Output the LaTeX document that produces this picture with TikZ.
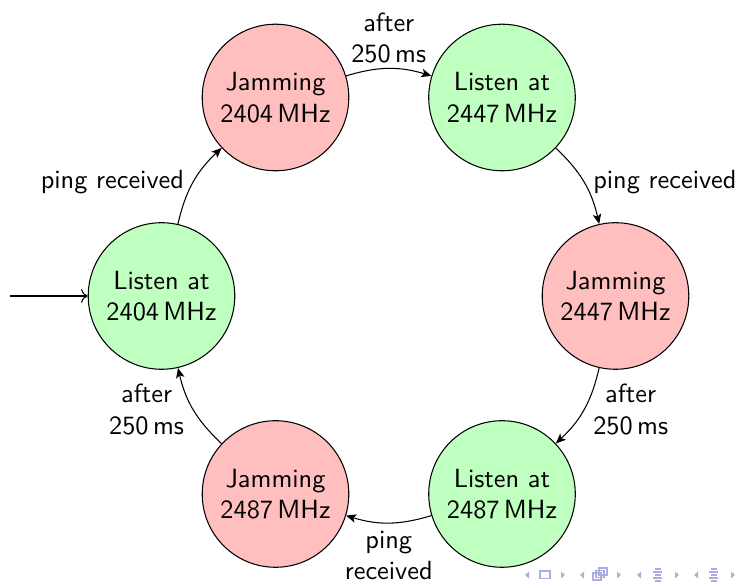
\documentclass[tikz,border=0pt]{standalone}
\usetikzlibrary{arrows.meta}
\definecolor{navc}{RGB}{173,173,225}
\begin{document}
\begin{tikzpicture}[x=0.38pt,y=-0.38pt,
  stnode/.style={circle,draw,line width=0.4pt,minimum size=55.7pt,inner sep=0pt,align=center,font=\sffamily},
  jam/.style={stnode,fill=red!25},
  lis/.style={stnode,fill=green!25},
  trans/.style={line width=0.4pt,-{Stealth[length=3.8pt,width=3.2pt,inset=0.9pt]}},
  lbl/.style={font=\sffamily,align=center},
  navtri/.style={fill=navc},
  navline/.style={draw=navc,line width=0.5pt}]
\useasboundingbox (0,0) rectangle (742,584);
% states
\node[jam] (J1) at (275.5,97.5) {Jamming\\2404\,MHz};
\node[lis] (L2) at (502,97.5) {Listen at\\2447\,MHz};
\node[jam] (J2) at (615.5,296) {Jamming\\2447\,MHz};
\node[lis] (L3) at (502,494) {Listen at\\2487\,MHz};
\node[jam] (J3) at (275.5,494) {Jamming\\2487\,MHz};
\node[lis] (L1) at (161.5,296) {Listen at\\2404\,MHz};
% initial
\coordinate (start) at (10,296);
\draw[line width=0.4pt,->] (start) -- (L1);
% transitions
\draw[trans] (L1) to[bend left=17] node[lbl,left] {ping received} (J1);
\draw[trans] (J1) to[bend left=17] node[lbl,above,yshift=-1.5pt] {after\\250\,ms} (L2);
\draw[trans] (L2) to[bend left=17] node[lbl,right] {ping received} (J2);
\draw[trans] (J2) to[bend left=17] node[lbl,right] {after\\250\,ms} (L3);
\draw[trans] (L3) to[bend left=17] node[lbl,below,yshift=0.5pt] {ping\\received} (J3);
\draw[trans] (J3) to[bend left=17] node[lbl,left] {after\\250\,ms} (L1);
% navigation symbols
\foreach \a/\b in {525/565,580/621,637/679,694/735}{
  \fill[navtri] (\a,575) -- (\a+4,571.5) -- (\a+4,578.5) -- cycle;
  \fill[navtri] (\b,575) -- (\b-4,571.5) -- (\b-4,578.5) -- cycle;
}
\draw[navline] (540,571) rectangle (550,578.5);
\draw[navline] (593,573) rectangle (601,580);
\draw[navline] (596,570.5) rectangle (604,577.5);
\draw[navline] (599,568) rectangle (607,575);
\foreach \x in {653,709}{
  \draw[navline] (\x+2,569) -- (\x+8,569);
  \draw[navline] (\x,572) -- (\x+9,572);
  \draw[navline] (\x+2,575) -- (\x+8,575);
  \draw[navline] (\x,578) -- (\x+9,578);
  \draw[navline] (\x+2,581) -- (\x+8,581);
}
\end{tikzpicture}
\end{document}
